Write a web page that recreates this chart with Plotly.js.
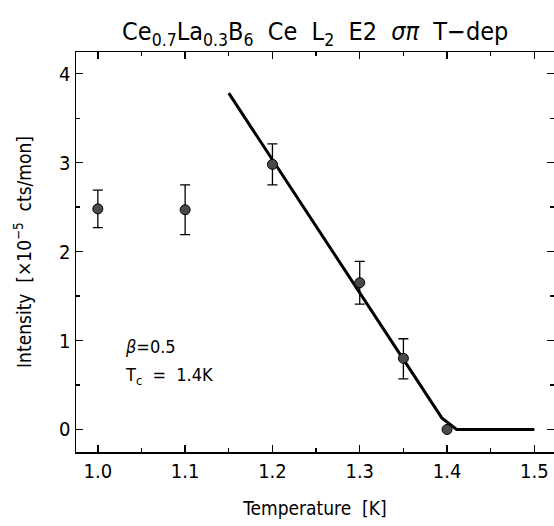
<!DOCTYPE html>
<html>
<head>
<meta charset="utf-8">
<script src="https://cdn.plot.ly/plotly-3.0.1.min.js"></script>
<style>html,body{margin:0;padding:0;overflow:hidden;background:#fff}</style>
</head>
<body>
<div id="chart" style="width:554px;height:526px"></div>
<script>
// Measured data
const temperature = [1.0, 1.1, 1.2, 1.3, 1.35, 1.4];
const intensity   = [2.48, 2.47, 2.98, 1.65, 0.80, 0.00];
const errPlus     = [0.21, 0.28, 0.23, 0.24, 0.22, null];
const errMinus    = [0.21, 0.28, 0.23, 0.24, 0.23, null];

// Fit curve (beta = 0.5, Tc = 1.4 K)
const fitT = [1.15, 1.394, 1.411, 1.5];
const fitI = [3.78, 0.13, 0.0, 0.0];

const xTickVals = [1.0, 1.1, 1.2, 1.3, 1.4, 1.5];
const xTickText = ['1.0', '1.1', '1.2', '1.3', '1.4', '1.5'];
const yTickVals = [0, 1, 2, 3, 4];
const yTickText = ['0', '1', '2', '3', '4'];

const FONT = '"Liberation Sans Narrow", "DejaVu Sans Condensed", "Liberation Sans", sans-serif';

const traces = [
  {
    x: fitT, y: fitI, mode: 'lines', type: 'scatter',
    line: {color: '#000', width: 3}, hoverinfo: 'skip', showlegend: false
  },
  {
    x: temperature, y: intensity, mode: 'markers', type: 'scatter',
    marker: {size: 10, color: '#4a4a4a', line: {color: '#000', width: 1}},
    error_y: {type: 'data', symmetric: false, array: errPlus, arrayminus: errMinus,
              color: '#000', thickness: 1.3, width: 5},
    showlegend: false
  }
];

const axisCommon = {
  showgrid: false, zeroline: false, showline: true, linecolor: '#000', linewidth: 1.5,
  mirror: 'ticks', ticks: 'inside', ticklen: 7, tickwidth: 1.4, tickcolor: '#000',
  tickfont: {family: FONT, size: 20, color: '#000'}
};

const layout = {
  width: 554, height: 526,
  margin: {l: 76, r: 0, t: 52, b: 74},
  paper_bgcolor: '#fff', plot_bgcolor: '#fff',
  font: {family: FONT, color: '#000'},
  title: {
    text: 'Ce<sub>0.7</sub>La<sub>0.3</sub>B<sub>6</sub>  Ce  L<sub>2</sub>  E2  <i>σπ</i>  T−dep',
    font: {family: FONT, size: 25, color: '#000'},
    x: 0.569, xanchor: 'center', y: 0.94, yanchor: 'middle'
  },
  xaxis: Object.assign({}, axisCommon, {
    range: [0.975, 1.5225],
    tickvals: xTickVals, ticktext: xTickText,
    minor: {dtick: 0.05, tick0: 1.0, ticks: 'inside', ticklen: 4, tickwidth: 1.2, tickcolor: '#000'},
    title: {text: 'Temperature  [K]', font: {family: FONT, size: 19, color: '#000'}, standoff: 20}
  }),
  yaxis: Object.assign({}, axisCommon, {
    range: [-0.253, 4.243],
    tickvals: yTickVals, ticktext: yTickText,
    minor: {dtick: 0.5, tick0: 0, ticks: 'inside', ticklen: 4, tickwidth: 1.2, tickcolor: '#000'},
    title: {text: 'Intensity  [×10<sup>−5</sup>  cts/mon]', font: {family: FONT, size: 19, color: '#000'}, standoff: 22}
  }),
  annotations: [
    {xref: 'paper', yref: 'paper', x: 0.098, y: 0.264, xanchor: 'left', yanchor: 'middle',
     text: '<i>β</i>=0.5', showarrow: false, font: {family: FONT, size: 18, color: '#000'}},
    {xref: 'paper', yref: 'paper', x: 0.098, y: 0.19, xanchor: 'left', yanchor: 'middle',
     text: 'T<sub>c</sub>  =  1.4K', showarrow: false, font: {family: FONT, size: 18, color: '#000'}}
  ]
};

Plotly.newPlot('chart', traces, layout, {staticPlot: true, displayModeBar: false});
</script>
</body>
</html>
